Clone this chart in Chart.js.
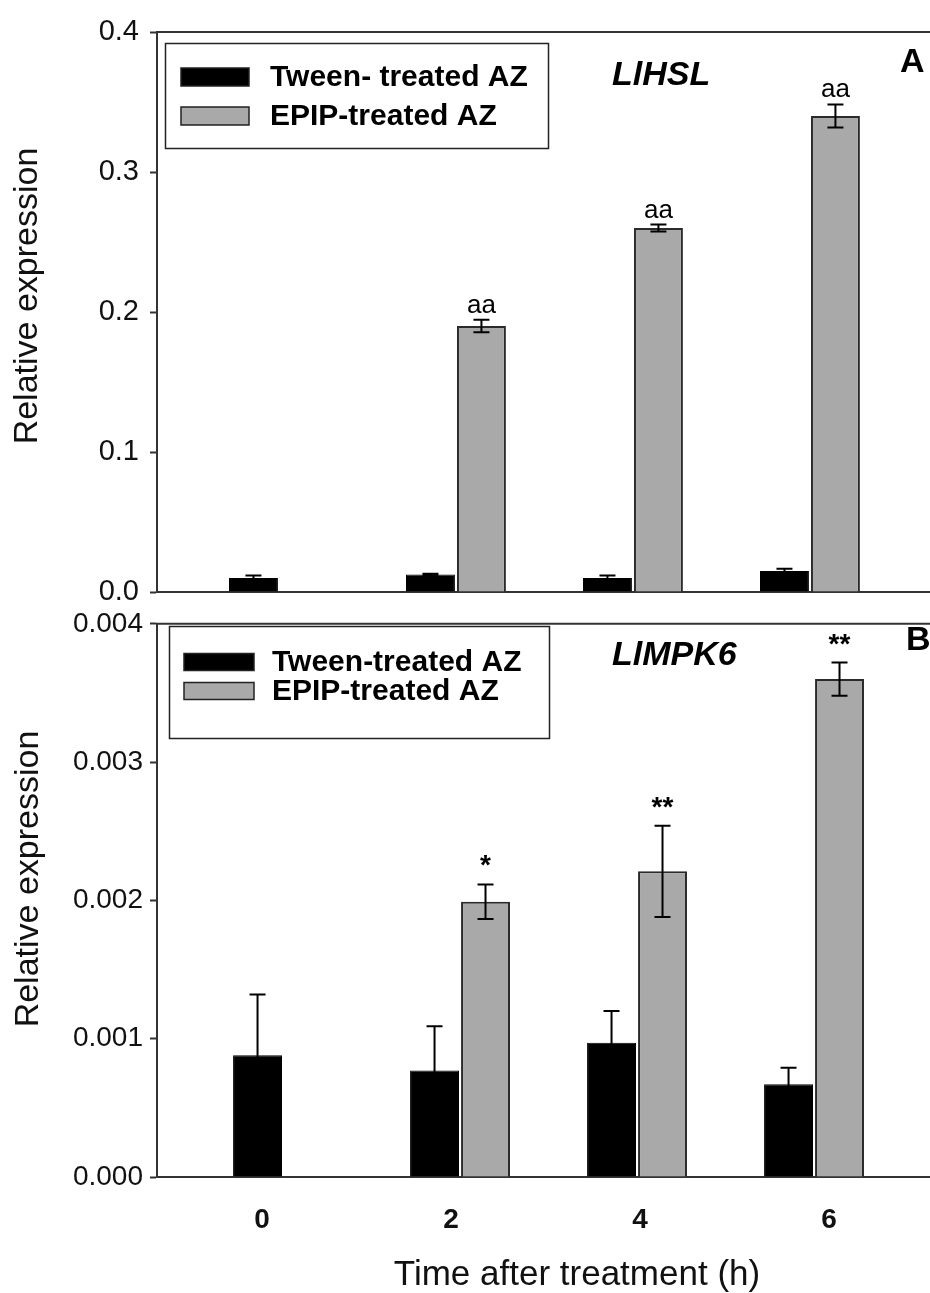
<!DOCTYPE html>
<html>
<head>
<meta charset="utf-8">
<script src="https://cdn.jsdelivr.net/npm/chart.js@4.4.1/dist/chart.umd.min.js"></script>
<style>
  html, body { margin: 0; padding: 0; background: #fff; }
  #wrap { position: relative; width: 930px; height: 1293px; }
  .panel { position: absolute; left: 0; }
</style>
</head>
<body>
<div id="wrap">
  <div class="panel" style="top:0px"><canvas id="chartA" width="930" height="621"></canvas></div>
  <div class="panel" style="top:600px"><canvas id="chartB" width="930" height="693"></canvas></div>
</div>
<script>
// hours after treatment
const hours = ["0", "2", "4", "6"];

// panel A - LlHSL
const hslTween = [0.010, 0.0125, 0.010, 0.015];
const hslTweenErr = [0.0018, 0.0006, 0.0018, 0.0016];
const hslEpip = [null, 0.19, 0.26, 0.34];
const hslEpipErr = [null, 0.0045, 0.0025, 0.0083];
const hslMarks = ["", "aa", "aa", "aa"];
const hslTicks = [0, 0.1, 0.2, 0.3, 0.4];
const hslTickLabels = ["0.0", "0.1", "0.2", "0.3", "0.4"];
const hslLegend = ["Tween- treated AZ", "EPIP-treated AZ"];

// panel B - LlMPK6
const mpkTween = [0.00088, 0.00077, 0.00097, 0.00067];
const mpkTweenErr = [0.00044, 0.00032, 0.00023, 0.00012];
const mpkEpip = [null, 0.00199, 0.00221, 0.0036];
const mpkEpipErr = [null, 0.000125, 0.00033, 0.00012];
const mpkMarks = ["", "*", "**", "**"];
const mpkTicks = [0, 0.001, 0.002, 0.003, 0.004];
const mpkTickLabels = ["0.000", "0.001", "0.002", "0.003", "0.004"];
const mpkLegend = ["Tween-treated AZ", "EPIP-treated AZ"];

const FONT = "'Liberation Sans', Arial, sans-serif";
const INK = "#111";
const LINE = "#333";
Chart.defaults.font.family = FONT;
Chart.defaults.color = INK;

// error bars + significance letters
const errorBars = {
  id: "errorBars",
  afterDatasetsDraw(chart, args, opts) {
    const ctx = chart.ctx;
    const ys = chart.scales.y;
    chart.data.datasets.forEach((ds, di) => {
      const meta = chart.getDatasetMeta(di);
      meta.data.forEach((bar, i) => {
        const v = ds.data[i];
        const e = ds.errors ? ds.errors[i] : null;
        if (v == null || e == null) return;
        const top = ys.getPixelForValue(v + e);
        const bot = ys.getPixelForValue(v - e);
        ctx.save();
        ctx.strokeStyle = "#000";
        ctx.lineWidth = 2;
        ctx.beginPath();
        ctx.moveTo(bar.x, top);
        ctx.lineTo(bar.x, bot);
        ctx.moveTo(bar.x - 8, top);
        ctx.lineTo(bar.x + 8, top);
        ctx.moveTo(bar.x - 8, bot);
        ctx.lineTo(bar.x + 8, bot);
        ctx.stroke();
        const m = ds.marks ? ds.marks[i] : "";
        if (m) {
          ctx.fillStyle = "#000";
          ctx.textAlign = "center";
          ctx.textBaseline = "alphabetic";
          ctx.font = opts.markFont;
          ctx.fillText(m, bar.x, top - opts.markGap);
        }
        ctx.restore();
      });
    });
  }
};

// boxed legend, gene name, panel letter, axis titles, top frame line
const panelDecor = {
  id: "panelDecor",
  afterDraw(chart, args, o) {
    const ctx = chart.ctx;
    const ca = chart.chartArea;
    ctx.save();
    ctx.strokeStyle = LINE;
    ctx.lineWidth = 2;
    ctx.beginPath();
    ctx.moveTo(ca.left - 1, ca.top);
    ctx.lineTo(chart.width, ca.top);
    ctx.stroke();

    const lg = o.legend;
    ctx.strokeStyle = "#222";
    ctx.lineWidth = 1.5;
    ctx.strokeRect(lg.x + 0.5, lg.y + 0.5, lg.w, lg.h);
    ctx.font = "bold 30px " + FONT;
    ctx.textAlign = "left";
    ctx.textBaseline = "middle";
    chart.data.datasets.forEach((ds, i) => {
      const cy = lg.rows[i];
      ctx.fillStyle = ds.backgroundColor;
      ctx.fillRect(lg.swX, cy - lg.swH / 2, lg.swW, lg.swH);
      ctx.strokeStyle = "#222";
      ctx.lineWidth = 1.5;
      ctx.strokeRect(lg.swX, cy - lg.swH / 2, lg.swW, lg.swH);
      ctx.fillStyle = "#000";
      ctx.fillText(ds.label, lg.textX, cy + 1);
    });

    ctx.fillStyle = "#000";
    ctx.font = "italic bold 34px " + FONT;
    ctx.fillText(o.gene, o.geneX, o.geneY);
    ctx.font = "bold 34px " + FONT;
    ctx.fillText(o.letter, o.letterX, o.letterY);

    // axis titles
    ctx.fillStyle = INK;
    ctx.font = "34px " + FONT;
    ctx.textAlign = "center";
    ctx.save();
    ctx.translate(o.yTitleX, o.yTitleY);
    ctx.rotate(-Math.PI / 2);
    ctx.fillText("Relative expression", 0, 0);
    ctx.restore();
    if (o.xTitle) {
      ctx.font = "35px " + FONT;
      ctx.fillText(o.xTitle, o.xTitleX, o.xTitleY);
    }
    ctx.restore();
  }
};

function makePanel(id, p) {
  return new Chart(document.getElementById(id), {
    type: "bar",
    data: {
      labels: hours,
      datasets: [
        {
          label: p.legend[0],
          data: p.tween,
          errors: p.tweenErr,
          backgroundColor: "#000000",
          borderColor: "#000000",
          borderWidth: 1,
          xAxisID: "x",
          categoryPercentage: 0.576,
          barPercentage: 0.96
        },
        {
          label: p.legend[1],
          data: p.epip,
          errors: p.epipErr,
          marks: p.marks,
          backgroundColor: "#a9a9a9",
          borderColor: "#2a2a2a",
          borderWidth: 2,
          xAxisID: "x",
          categoryPercentage: 0.576,
          barPercentage: 0.96
        }
      ]
    },
    options: {
      responsive: false,
      animation: false,
      devicePixelRatio: 1,
      layout: { padding: { top: p.padTop, right: 0, bottom: 0, left: 0 } },
      plugins: {
        legend: { display: false },
        tooltip: { enabled: false },
        errorBars: { markFont: p.markFont, markGap: p.markGap },
        panelDecor: p.decor
      },
      scales: {
        x: {
          type: "linear",
          display: false,
          offset: false,
          min: p.xMin,
          max: p.xMin + 773 / 88.5,
          afterBuildTicks: s => { s.ticks = hours.map(h => ({ value: Number(h) })); }
        },
        xh: {
          type: "linear",
          position: "bottom",
          offset: false,
          min: -1.111,
          max: 7.069,
          afterBuildTicks: s => { s.ticks = hours.map(h => ({ value: Number(h) })); },
          afterFit: s => { s.height = p.bottomH; },
          grid: { display: false },
          border: { display: true, color: LINE, width: 2 },
          ticks: {
            display: p.showX,
            autoSkip: false,
            maxRotation: 0,
            padding: 18,
            color: INK,
            font: { size: 28, weight: "bold" },
            callback: (v, i) => hours[i]
          }
        },
        y: {
          min: 0,
          max: p.ticks[p.ticks.length - 1],
          afterFit: s => { s.width = 157; },
          afterBuildTicks: s => { s.ticks = p.ticks.map(v => ({ value: v })); },
          grid: { display: true, drawOnChartArea: false, drawTicks: true, tickLength: 7, tickWidth: 2, tickColor: LINE },
          border: { display: true, color: LINE, width: 2 },
          ticks: {
            padding: p.tickPad,
            color: INK,
            font: { size: p.tickSize },
            callback: (v, i) => p.tickLabels[i]
          }
        }
      }
    },
    plugins: [errorBars, panelDecor]
  });
}

makePanel("chartA", {
  tween: hslTween, tweenErr: hslTweenErr,
  epip: hslEpip, epipErr: hslEpipErr, marks: hslMarks,
  ticks: hslTicks, tickLabels: hslTickLabels, legend: hslLegend,
  padTop: 32, bottomH: 29, showX: false, xMin: -1.378, tickSize: 29, tickPad: 11,
  markFont: "26px " + FONT, markGap: 7,
  decor: {
    legend: { x: 165, y: 43, w: 383, h: 105, rows: [77, 116], swX: 181, swW: 68, swH: 18, textX: 270 },
    gene: "LlHSL", geneX: 612, geneY: 76,
    letter: "A", letterX: 900, letterY: 63,
    yTitleX: 28, yTitleY: 296
  }
});

makePanel("chartB", {
  tween: mpkTween, tweenErr: mpkTweenErr,
  epip: mpkEpip, epipErr: mpkEpipErr, marks: mpkMarks,
  ticks: mpkTicks, tickLabels: mpkTickLabels, legend: mpkLegend,
  padTop: 16, bottomH: 116, showX: true, xMin: -1.424, tickSize: 28, tickPad: 7,
  markFont: "bold 28px " + FONT, markGap: 10,
  decor: {
    legend: { x: 169, y: 26, w: 380, h: 112, rows: [62, 91], swX: 184, swW: 70, swH: 17, textX: 272 },
    gene: "LlMPK6", geneX: 612, geneY: 56,
    letter: "B", letterX: 906, letterY: 41,
    yTitleX: 29, yTitleY: 279,
    xTitle: "Time after treatment (h)", xTitleX: 577, xTitleY: 675
  }
});
</script>
</body>
</html>
